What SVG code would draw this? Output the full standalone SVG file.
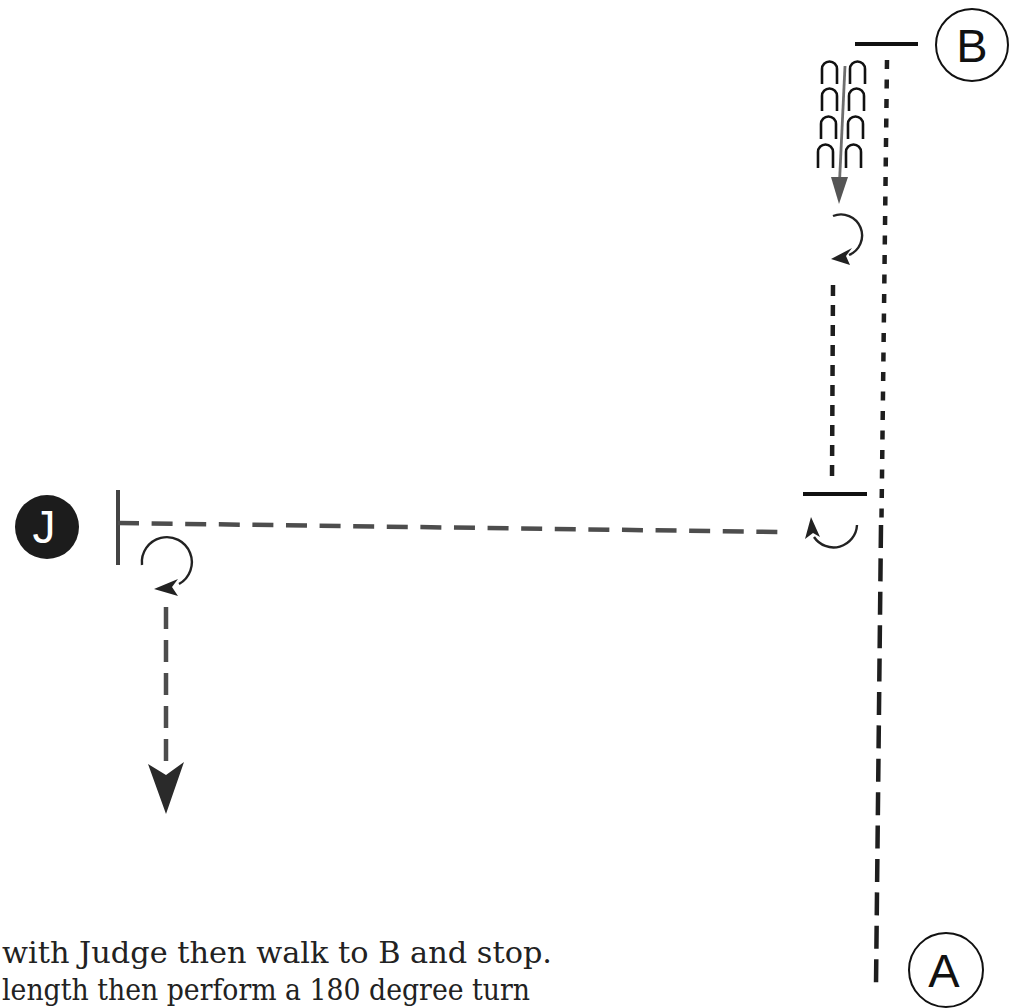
<svg xmlns="http://www.w3.org/2000/svg" width="1015" height="1008" viewBox="0 0 1015 1008">
<style>
.lbl{font-family:"Liberation Sans","Arial",sans-serif;text-anchor:middle}
.ring{fill:#fff;stroke:#111;stroke-width:2}
.bar{stroke:#111;stroke-width:4;fill:none}
.dash{fill:none;stroke:#1e1e1e;stroke-width:4.5}
.gdash{fill:none;stroke:#4d4d4d;stroke-width:4.5}
.arc{fill:none;stroke:#222;stroke-width:2.4}
.head{fill:#222}
.trot{fill:none;stroke:#111;stroke-width:2.6}
.cap{font-family:"DejaVu Serif","Liberation Serif",serif;font-size:29px;fill:#222}
</style>
<rect width="1015" height="1008" fill="#fff"/>

<g id="node-B">
  <circle class="ring" cx="972" cy="45" r="36"/>
  <text class="lbl" x="972" y="62" font-size="47" fill="#111">B</text>
</g>

<g id="node-A">
  <circle class="ring" cx="946" cy="970" r="37"/>
  <text class="lbl" x="944" y="987" font-size="47" fill="#111">A</text>
</g>

<g id="node-J">
  <circle cx="47" cy="527" r="32" fill="#1c1c1c"/>
  <text class="lbl" x="44" y="543" font-size="46" fill="#fff">J</text>
</g>

<g id="connectors">
  <line class="bar" x1="855" y1="44" x2="918" y2="44"/>
  <line class="bar" x1="803" y1="494" x2="867" y2="494"/>
  <line x1="118" y1="490" x2="118" y2="565" stroke="#444" stroke-width="4"/>

  <line class="dash" x1="887" y1="60" x2="881.5" y2="518" stroke-dasharray="9 10.5"/>
  <line class="dash" x1="881" y1="525" x2="876" y2="985" stroke-dasharray="23 10.4"/>

  <g id="trot">
    <path class="trot" d="M822,84 v-15 a7.5,7.5 0 0 1 15,0 v15"/>
    <path class="trot" d="M850,84 v-15 a7.5,7.5 0 0 1 15,0 v15"/>
    <path class="trot" d="M822,111 v-15 a7.5,7.5 0 0 1 15,0 v15"/>
    <path class="trot" d="M849,111 v-15 a7.5,7.5 0 0 1 15,0 v15"/>
    <path class="trot" d="M821,139 v-15 a7.5,7.5 0 0 1 15,0 v15"/>
    <path class="trot" d="M848,139 v-15 a7.5,7.5 0 0 1 15,0 v15"/>
    <path class="trot" d="M818,168 v-16 a7.5,7.5 0 0 1 15,0 v16"/>
    <path class="trot" d="M846,168 v-16 a7.5,7.5 0 0 1 15,0 v16"/>
  </g>
  <line x1="845" y1="66" x2="839.5" y2="182" stroke="#6e6e6e" stroke-width="2.8"/>
  <polygon points="831,177 848,177 839,204" fill="#555"/>

  <path class="arc" d="M833,216 A21,21 0 0 1 849,255"/>
  <polygon class="head" points="831,259 852,248 846,256 850,265"/>

  <line class="dash" x1="833" y1="285" x2="832" y2="481" stroke-dasharray="11 9"/>

  <path class="arc" d="M857,525 A23.5,23.5 0 0 1 814,537"/>
  <polygon class="head" points="811,517 805,539 813,533 820,537"/>

  <line class="gdash" x1="118" y1="523" x2="781" y2="532" stroke-dasharray="21 12.6"/>

  <path class="arc" d="M142,565 A25,25 0 1 1 179,584" stroke="#333"/>
  <polygon class="head" points="154,589 178,579 172,587 178,596" fill="#333"/>

  <line class="gdash" x1="166" y1="607" x2="166" y2="762" stroke-dasharray="22 11"/>
  <polygon points="148,764 166,775 184,762 166,814" fill="#2a2a2a"/>
</g>

<g id="caption">
  <text class="cap" x="2" y="963" textLength="550" lengthAdjust="spacingAndGlyphs">with Judge then walk to B and stop.</text>
  <text class="cap" x="2" y="1000" textLength="528" lengthAdjust="spacingAndGlyphs">length then perform a 180 degree turn</text>
</g>
</svg>
